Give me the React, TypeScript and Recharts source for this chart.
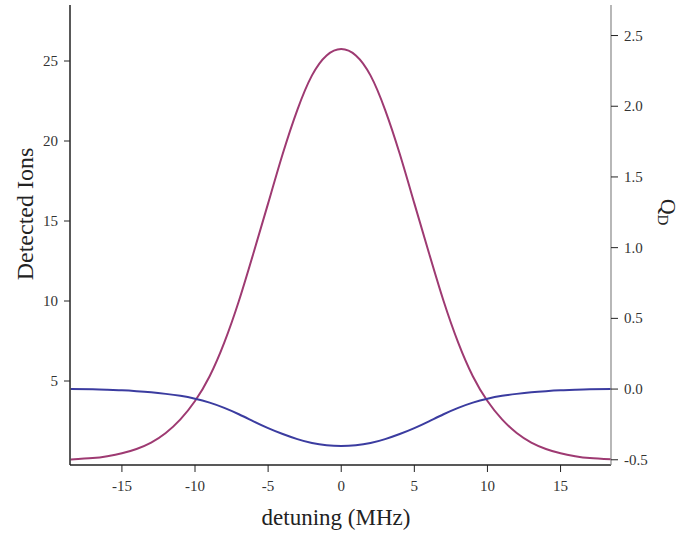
import React from 'react';
import { LineChart, Line, XAxis, YAxis, Label } from 'recharts';

const detuning = [-18.5, -17, -16, -15, -14, -13, -12, -11, -10, -9, -8, -7, -6, -5, -4, -3, -2, -1, 0, 1, 2, 3, 4, 5, 6, 7, 8, 9, 10, 11, 12, 13, 14, 15, 16, 17, 18.5];
const detectedIons = [0.1, 0.18, 0.3, 0.48, 0.75, 1.15, 1.75, 2.6, 3.75, 5.3, 7.4, 10.0, 13.0, 16.1, 19.2, 21.95, 24.1, 25.35, 25.75, 25.35, 24.1, 21.95, 19.2, 16.1, 13.0, 10.0, 7.4, 5.3, 3.75, 2.6, 1.75, 1.15, 0.75, 0.48, 0.3, 0.18, 0.1];
const qD = [0.0, -0.002, -0.005, -0.009, -0.015, -0.023, -0.034, -0.048, -0.068, -0.096, -0.133, -0.178, -0.228, -0.276, -0.318, -0.354, -0.382, -0.398, -0.403, -0.398, -0.382, -0.354, -0.318, -0.276, -0.228, -0.178, -0.133, -0.096, -0.068, -0.048, -0.034, -0.023, -0.015, -0.009, -0.005, -0.002, 0.0];

const xTicks = [-15, -10, -5, 0, 5, 10, 15];
const leftTicks = [5, 10, 15, 20, 25];
const rightTicks = [-0.5, 0, 0.5, 1, 1.5, 2, 2.5];

const data = detuning.map((x, i) => ({ x, ions: detectedIons[i], q: qD[i] }));

const FONT = '"Liberation Serif", "DejaVu Serif", serif';

const XTick = (props: any) => {
  const { x, y, payload } = props;
  return (
    <text x={x} y={y + 15} textAnchor="middle" fontFamily={FONT} fontSize={15} fill="#333">
      {String(payload.value)}
    </text>
  );
};

const LeftTick = (props: any) => {
  const { x, y, payload } = props;
  return (
    <text x={x} y={y} dy={5} textAnchor="end" fontFamily={FONT} fontSize={15} fill="#333">
      {String(payload.value)}
    </text>
  );
};

const RightTick = (props: any) => {
  const { x, y, payload } = props;
  return (
    <text x={x} y={y} dy={5} textAnchor="start" fontFamily={FONT} fontSize={15} fill="#333">
      {Number(payload.value).toFixed(1)}
    </text>
  );
};

export default function App() {
  return (
    <div style={{ position: 'absolute', left: 0, top: 0, background: '#fff' }}>
      <LineChart width={683} height={534} data={data} margin={{ top: 5, right: 0, bottom: 0, left: 0 }}>
        <XAxis
          type="number"
          dataKey="x"
          domain={[-18.55, 18.45]}
          ticks={xTicks}
          allowDataOverflow
          height={69}
          tickSize={7}
          tickMargin={4}
          tick={<XTick />}
          axisLine={{ stroke: '#222', strokeWidth: 1.5 }}
          tickLine={{ stroke: '#222' }}
        >
          <Label
            content={() => (
              <text x={336} y={525} textAnchor="middle" fontFamily={FONT} fontSize={23} fill="#222">
                detuning (MHz)
              </text>
            )}
          />
        </XAxis>
        <YAxis
          yAxisId="left"
          orientation="left"
          domain={[-0.25, 28.5]}
          ticks={leftTicks}
          allowDataOverflow
          width={70}
          tickSize={6}
          tickMargin={6}
          tick={<LeftTick />}
          axisLine={{ stroke: '#222', strokeWidth: 1.5 }}
          tickLine={{ stroke: '#222' }}
        >
          <Label
            content={() => (
              <text
                x={25}
                y={214}
                transform="rotate(-90 25 214)"
                textAnchor="middle"
                dominantBaseline="central"
                fontFamily={FONT}
                fontSize={24}
                fill="#222"
              >
                Detected Ions
              </text>
            )}
          />
        </YAxis>
        <YAxis
          yAxisId="right"
          orientation="right"
          domain={[-0.537, 2.716]}
          ticks={rightTicks}
          allowDataOverflow
          width={72}
          tickSize={7}
          tickMargin={6}
          tick={<RightTick />}
          axisLine={{ stroke: '#888', strokeWidth: 1.2 }}
          tickLine={{ stroke: '#222' }}
        >
          <Label
            content={() => (
              <text
                x={668}
                y={212}
                transform="rotate(90 668 212)"
                textAnchor="middle"
                dominantBaseline="central"
                fontFamily={FONT}
                fontSize={22}
                fill="#222"
              >
                Q<tspan fontSize={15} dy={5}>D</tspan>
              </text>
            )}
          />
        </YAxis>
        <Line
          yAxisId="left"
          type="natural"
          dataKey="ions"
          stroke="#9e3a72"
          strokeWidth={2}
          dot={false}
          isAnimationActive={false}
        />
        <Line
          yAxisId="right"
          type="natural"
          dataKey="q"
          stroke="#3b3ca0"
          strokeWidth={2}
          dot={false}
          isAnimationActive={false}
        />
      </LineChart>
    </div>
  );
}
